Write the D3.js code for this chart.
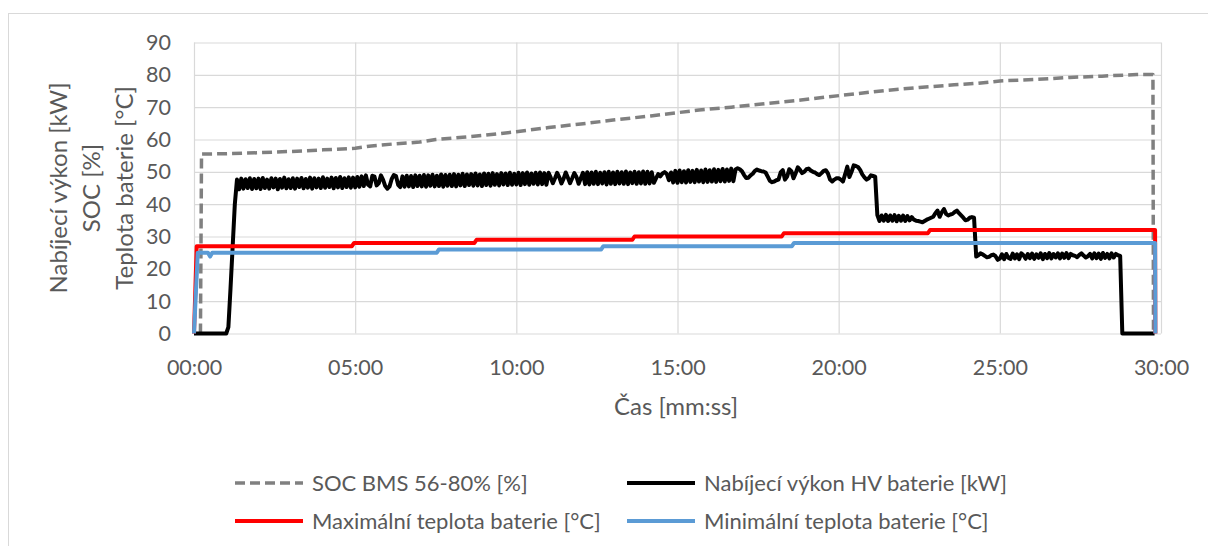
<!DOCTYPE html>
<html>
<head>
<meta charset="utf-8">
<script src="https://cdn.jsdelivr.net/npm/d3@7"></script>
<style>
  html, body { margin: 0; padding: 0; background: #ffffff; }
  svg { display: block; }
  text { font-family: Lato, "Open Sans", sans-serif; fill: #595959; }
</style>
</head>
<body>
<svg id="chart" width="1208" height="546"></svg>
<script>
// ---- Data -------------------------------------------------------------
// Axis ticks
const yTicks = [0, 10, 20, 30, 40, 50, 60, 70, 80, 90];
const xTicksSec = [0, 300, 600, 900, 1200, 1500, 1800];
const xTickLabels = ["00:00", "05:00", "10:00", "15:00", "20:00", "25:00", "30:00"];

// Series names (legend order = drawing order)
const seriesNames = [
  "SOC BMS 56-80% [%]",
  "Nabíjecí výkon HV baterie [kW]",
  "Maximální teplota baterie [°C]",
  "Minimální teplota baterie [°C]"
];

// SOC reported by the BMS: [time s, %]
const socPoints = [
  [12, 0], [14, 55.5], [60, 55.6], [120, 55.9], [180, 56.3], [240, 56.8],
  [300, 57.3], [330, 58.0], [370, 58.6], [420, 59.2], [450, 60.0], [500, 60.7],
  [540, 61.3], [600, 62.4], [660, 63.7], [720, 64.8], [780, 66.0], [850, 67.3],
  [900, 68.3], [940, 69.1], [1000, 70.0], [1070, 71.2], [1130, 72.2], [1180, 73.2],
  [1230, 74.1], [1290, 75.2], [1350, 76.1], [1415, 76.9], [1460, 77.4], [1500, 78.1],
  [1570, 78.6], [1630, 79.2], [1690, 79.6], [1755, 80.1], [1785, 80.1], [1786, 0]
];

// Charging power of the HV battery, logged every 4 s from 00:00 [kW]
const powerStepSec = 4;
const powerKW = [
  0, 0, 0, 0, 0, 0, 0, 0, 0, 0, 0, 0, 0, 0, 0,
  0, 2, 14, 27, 40, 47.6, 44.6, 47.9, 44.8, 47.7, 45.0, 48.0, 44.7, 47.8, 44.9,
  47.9, 44.7, 48.1, 45.0, 47.6, 44.8, 48.0, 45.2, 47.9, 44.6, 47.8, 45.1, 48.2, 44.9, 47.7,
  45.0, 48.0, 44.8, 47.9, 45.3, 48.1, 44.9, 47.8, 45.1, 48.2, 44.8, 48.0, 45.2, 47.9, 45.0,
  48.3, 45.1, 47.9, 45.3, 48.2, 44.9, 48.1, 45.2, 48.4, 45.0, 48.0, 45.3, 48.3, 45.1, 48.2,
  45.2, 48.4, 45.4, 48.6, 45.6, 48.9, 46.0, 45.5, 48.8, 48.5, 45.8, 46.5, 48.9, 47.5, 45.6,
  44.8, 45.5, 47.8, 49.0, 48.7, 46.0, 45.3, 48.6, 45.4, 48.8, 45.5, 48.7, 45.3, 48.9, 45.6,
  48.8, 45.5, 49.0, 45.4, 48.9, 45.7, 49.1, 45.5, 48.8, 45.6, 49.2, 45.4, 49.0, 45.7, 49.1,
  45.6, 49.3, 45.5, 49.1, 45.8, 49.4, 45.6, 49.2, 45.9, 49.3, 45.7, 49.5, 45.8, 49.2, 45.6,
  49.5, 45.9, 49.4, 45.7, 49.6, 46.0, 49.3, 45.8, 49.6, 46.1, 49.5, 45.9, 49.7, 46.0, 49.4,
  46.1, 49.7, 45.9, 49.6, 46.2, 49.8, 46.0, 49.5, 46.3, 49.7, 46.1, 49.8, 46.2, 49.6, 46.0,
  49.7, 48.2, 46.5, 48.0, 49.7, 48.3, 46.4, 47.9, 49.8, 48.2, 46.5, 48.0, 49.6, 48.4, 46.3,
  48.0, 49.7, 46.2, 49.9, 46.1, 49.8, 46.3, 50.0, 46.2, 49.7, 46.4, 49.9, 46.1, 50.0, 46.3,
  49.8, 46.2, 50.0, 46.4, 49.9, 46.3, 50.1, 46.2, 49.8, 46.5, 50.0, 46.3, 49.9, 46.4, 50.1,
  46.3, 50.0, 46.4, 49.9, 46.6, 48.0, 49.3, 48.6, 49.5, 49.9, 49.4, 47.4, 49.8, 46.7, 50.3,
  46.6, 50.4, 46.8, 50.2, 46.7, 50.5, 46.9, 50.3, 46.8, 50.6, 47.0, 50.4, 46.8, 50.7, 46.9,
  50.5, 47.0, 50.8, 46.9, 50.6, 47.1, 50.9, 47.0, 50.7, 47.2, 51.0, 47.1, 50.7, 51.1, 50.8,
  50.2, 49.0, 48.1, 48.2, 48.9, 49.4, 50.3, 50.7, 50.4, 50.2, 50.1, 49.8, 48.5, 47.2, 46.8,
  47.0, 47.4, 47.6, 49.8, 50.5, 47.6, 48.5, 50.8, 50.2, 48.0, 49.6, 51.4, 50.6, 49.6, 50.0,
  50.8, 51.0, 50.4, 50.0, 49.8, 49.3, 49.0, 49.6, 50.3, 50.5, 49.5, 47.6, 47.0, 47.6, 48.0,
  48.0, 47.6, 47.0, 49.2, 51.6, 48.4, 50.0, 52.0, 51.8, 51.5, 50.6, 49.2, 48.3, 47.6, 48.0,
  48.9, 48.7, 48.5, 36.6, 34.8, 36.5, 34.9, 36.7, 34.8, 36.5, 34.9, 36.6, 34.7, 36.4, 34.9,
  36.5, 34.8, 36.3, 35.0, 36.0, 35.2, 34.9, 34.8, 34.6, 34.4, 34.8, 35.2, 35.5, 35.8, 36.1,
  37.2, 38.0, 36.1, 37.5, 38.5, 37.0, 36.5, 36.8, 37.0, 37.6, 38.0, 37.2, 36.5, 35.8, 35.0,
  35.2, 35.8, 36.0, 35.8, 23.8, 24.2, 24.8, 24.5, 24.0, 23.6, 23.7, 24.2, 24.4, 23.9, 22.8,
  23.2, 24.5, 23.0, 24.6, 23.4, 23.1, 24.7, 23.2, 24.5, 23.0, 24.8, 24.2, 23.1, 24.6, 23.3,
  24.7, 23.1, 24.5, 23.4, 24.8, 23.0, 24.6, 23.3, 24.9, 23.2, 24.6, 23.5, 24.8, 23.2, 24.7,
  23.4, 24.9, 23.3, 24.6, 24.2, 24.0, 23.6, 24.3, 24.8, 24.1, 23.5, 23.9, 24.6, 23.2, 24.8,
  23.3, 24.7, 23.1, 24.9, 23.4, 24.6, 23.2, 24.8, 23.5, 24.6, 24.2, 24.0, 0, 0, 0,
  0, 0, 0, 0, 0, 0, 0, 0, 0, 0, 0, 0, 0
];

// Maximum cell temperature: [time s, °C]
const maxTempPoints = [
  [0, 0], [5, 27], [294, 27], [298, 28], [522, 28], [526, 29], [816, 29], [820, 30],
  [1094, 30], [1098, 31], [1366, 31], [1370, 32], [1789, 32], [1789.5, 0]
];

// Minimum cell temperature: [time s, °C]
const minTempPoints = [
  [0, 0], [7, 25], [26, 25], [30, 23.8], [34, 25], [452, 25], [456, 26], [758, 26],
  [762, 27], [1113, 27], [1117, 28], [1789, 28], [1789.5, 0]
];

// ---- Layout -----------------------------------------------------------
const svg = d3.select("#chart");
const plot = { left: 194, right: 1161, top: 42.5, bottom: 333.5 };

const x = d3.scaleLinear().domain([0, 1800]).range([plot.left, plot.right]);
const y = d3.scaleLinear().domain([0, 90]).range([plot.bottom, plot.top]);

const gridColor = "#d9d9d9";
const colors = ["#808080", "#000000", "#ff0000", "#5b9bd5"];
const widths = [3.5, 4, 4, 4];
const socDash = "10,5";

// Outer chart frame
svg.append("rect")
  .attr("x", 8.5).attr("y", 13.5)
  .attr("width", 1230).attr("height", 560)
  .attr("fill", "none").attr("stroke", gridColor).attr("stroke-width", 1);

// Horizontal gridlines + y tick labels
const yAxis = svg.append("g")
  .attr("transform", `translate(${plot.left},0)`)
  .call(d3.axisLeft(y).tickValues(yTicks).tickFormat(d3.format("d"))
    .tickSize(-(plot.right - plot.left)).tickPadding(23));
yAxis.select(".domain").remove();
yAxis.selectAll(".tick line").attr("stroke", gridColor).attr("stroke-width", 1.2);
yAxis.selectAll(".tick text")
  .style("font-size", "21.5px").attr("fill", "#595959");

// Vertical gridlines + x tick labels
const xAxis = svg.append("g")
  .attr("transform", `translate(0,${plot.bottom})`)
  .call(d3.axisBottom(x).tickValues(xTicksSec).tickFormat((d, i) => xTickLabels[i])
    .tickSize(-(plot.bottom - plot.top)).tickPadding(0));
xAxis.select(".domain").remove();
xAxis.selectAll(".tick line").attr("stroke", gridColor).attr("stroke-width", 1.2);
xAxis.selectAll(".tick text")
  .style("font-size", "21.5px").attr("fill", "#595959")
  .attr("y", 33.5).attr("dy", "0.35em");

// Axis titles
svg.append("text")
  .attr("x", 676).attr("y", 407).attr("dy", "0.35em")
  .attr("text-anchor", "middle").style("font-size", "24px")
  .text("Čas [mm:ss]");

const yTitles = ["Nabíjecí výkon [kW]", "SOC [%]", "Teplota baterie [°C]"];
const yTitleX = [59, 92, 125];
yTitles.forEach((t, i) => {
  svg.append("text")
    .attr("transform", `translate(${yTitleX[i]},188) rotate(-90)`)
    .attr("dy", "0.35em").attr("text-anchor", "middle")
    .style("font-size", "24px")
    .text(t);
});

// ---- Series -----------------------------------------------------------
const line = d3.line().x(d => x(d[0])).y(d => y(d[1]));
const powerPoints = powerKW.map((v, i) => [i * powerStepSec, v]);
const seriesData = [socPoints, powerPoints, maxTempPoints, minTempPoints];

const g = svg.append("g").attr("fill", "none")
  .attr("stroke-linejoin", "round");

seriesData.forEach((data, i) => {
  g.append("path").datum(data)
    .attr("d", line)
    .attr("stroke", colors[i]).attr("stroke-width", widths[i])
    .attr("stroke-dasharray", i === 0 ? socDash : null);
});

// ---- Legend -----------------------------------------------------------
const legendPos = [
  { x: 235, y: 483 }, { x: 627, y: 483 },
  { x: 235, y: 521 }, { x: 627, y: 521 }
];
seriesNames.forEach((name, i) => {
  const p = legendPos[i];
  svg.append("line")
    .attr("x1", p.x).attr("x2", p.x + 68)
    .attr("y1", p.y).attr("y2", p.y)
    .attr("stroke", colors[i]).attr("stroke-width", widths[i])
    .attr("stroke-dasharray", i === 0 ? socDash : null);
  svg.append("text")
    .attr("x", p.x + 77).attr("y", p.y).attr("dy", "0.35em")
    .style("font-size", "22px")
    .text(name);
});
</script>
</body>
</html>
